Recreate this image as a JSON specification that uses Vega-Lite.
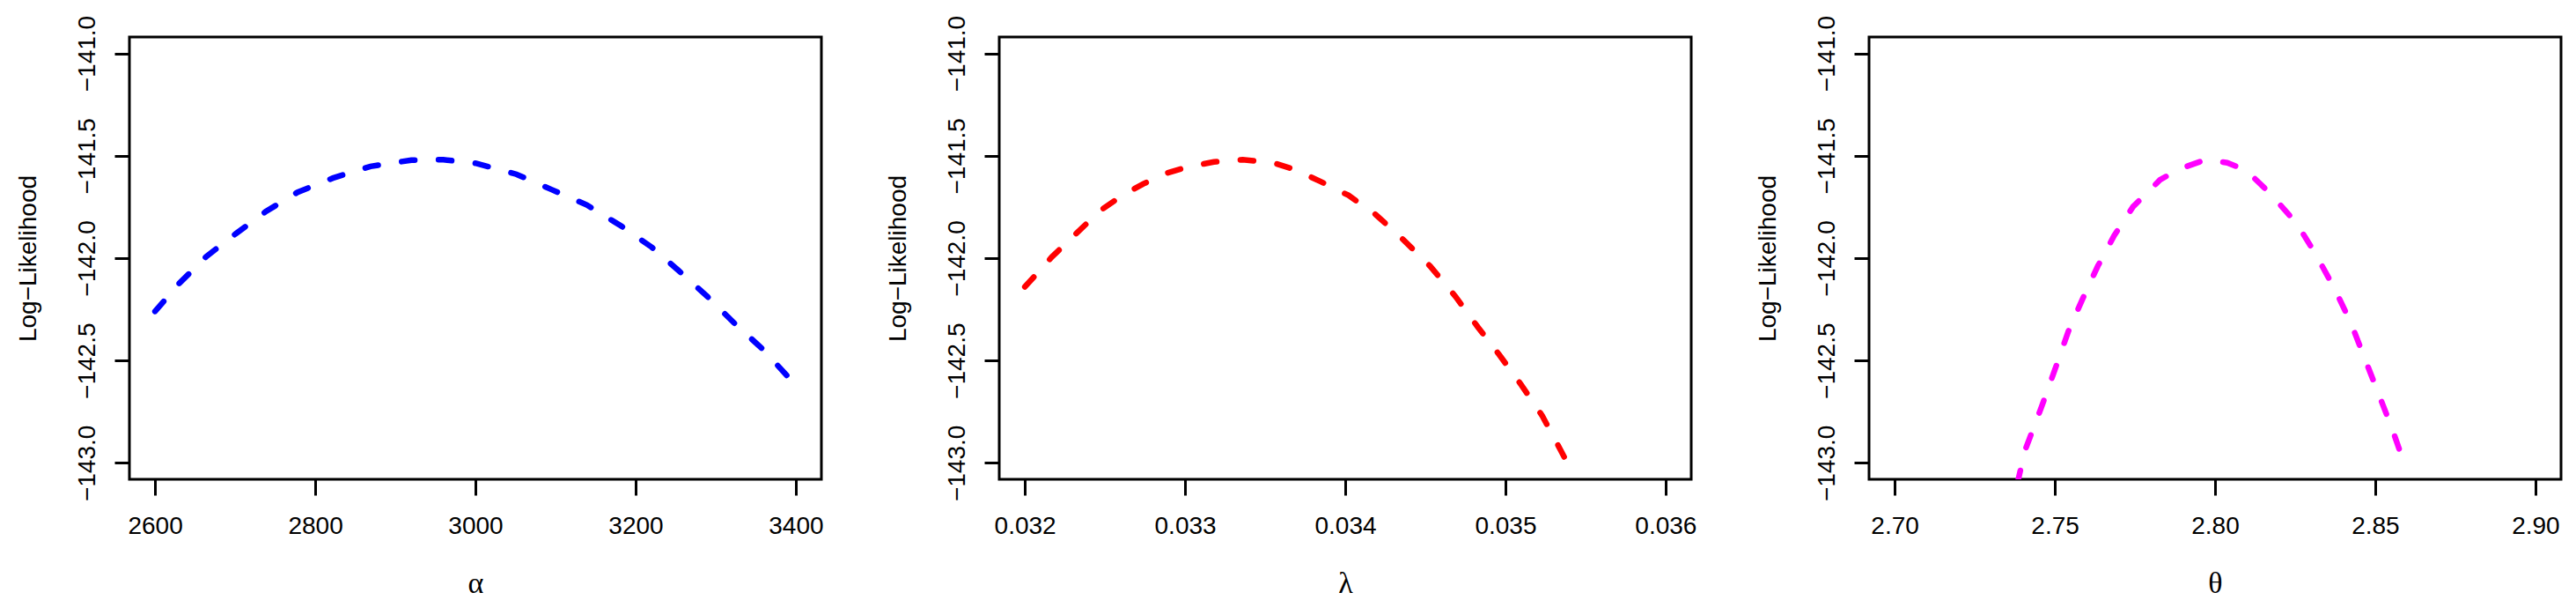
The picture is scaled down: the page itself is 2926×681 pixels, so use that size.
{
  "$schema": "https://vega.github.io/schema/vega-lite/v6.json",
  "padding": {"left": 16, "top": 15, "right": 0, "bottom": 0},
  "background": "white",
  "bounds": "flush",
  "spacing": 202,
  "hconcat": [
    {
      "width": 786, "height": 502,
      "data": {"values": [
        {"alpha": 2600, "loglik": -142.26},
        {"alpha": 2630, "loglik": -142.124},
        {"alpha": 2664, "loglik": -141.992},
        {"alpha": 2701, "loglik": -141.88},
        {"alpha": 2738, "loglik": -141.773},
        {"alpha": 2778, "loglik": -141.678},
        {"alpha": 2822, "loglik": -141.609},
        {"alpha": 2869, "loglik": -141.552},
        {"alpha": 2920, "loglik": -141.521},
        {"alpha": 2960, "loglik": -141.519},
        {"alpha": 3001, "loglik": -141.537},
        {"alpha": 3051, "loglik": -141.59},
        {"alpha": 3095, "loglik": -141.665},
        {"alpha": 3139, "loglik": -141.74},
        {"alpha": 3182, "loglik": -141.843},
        {"alpha": 3220, "loglik": -141.946},
        {"alpha": 3253, "loglik": -142.058},
        {"alpha": 3290, "loglik": -142.189},
        {"alpha": 3324, "loglik": -142.32},
        {"alpha": 3358, "loglik": -142.442},
        {"alpha": 3400, "loglik": -142.62}
      ]},
      "mark": {"type": "line", "color": "#0000ff", "strokeWidth": 6.5, "strokeDash": [15, 27], "strokeCap": "round", "clip": true},
      "encoding": {
        "x": {"field": "alpha", "type": "quantitative", "scale": {"domain": [2568, 3432], "nice": false, "zero": false},
              "axis": {"values": [2600, 2800, 3000, 3200, 3400], "format": "d", "title": "α"}},
        "y": {"field": "loglik", "type": "quantitative", "scale": {"domain": [-143.08, -140.92], "nice": false, "zero": false},
              "axis": {"values": [-143, -142.5, -142, -141.5, -141], "format": ".1f", "title": "Log−Likelihood"}}
      }
    },
    {
      "width": 786, "height": 502,
      "data": {"values": [
        {"lambda": 0.032, "loglik": -142.14},
        {"lambda": 0.03207, "loglik": -142.08},
        {"lambda": 0.03217, "loglik": -141.993},
        {"lambda": 0.03232, "loglik": -141.88},
        {"lambda": 0.03247, "loglik": -141.768},
        {"lambda": 0.03261, "loglik": -141.693},
        {"lambda": 0.03274, "loglik": -141.637},
        {"lambda": 0.03289, "loglik": -141.584},
        {"lambda": 0.03301, "loglik": -141.556},
        {"lambda": 0.03318, "loglik": -141.53},
        {"lambda": 0.03336, "loglik": -141.519},
        {"lambda": 0.03355, "loglik": -141.534},
        {"lambda": 0.03368, "loglik": -141.566},
        {"lambda": 0.03385, "loglik": -141.627},
        {"lambda": 0.03402, "loglik": -141.693},
        {"lambda": 0.03419, "loglik": -141.787},
        {"lambda": 0.03436, "loglik": -141.908},
        {"lambda": 0.03453, "loglik": -142.039},
        {"lambda": 0.03469, "loglik": -142.189},
        {"lambda": 0.03483, "loglik": -142.339},
        {"lambda": 0.03496, "loglik": -142.47},
        {"lambda": 0.0351, "loglik": -142.62},
        {"lambda": 0.03523, "loglik": -142.77},
        {"lambda": 0.03532, "loglik": -142.901},
        {"lambda": 0.0354, "loglik": -143.02}
      ]},
      "mark": {"type": "line", "color": "#ff0000", "strokeWidth": 6.5, "strokeDash": [15, 27], "strokeCap": "round", "clip": true},
      "encoding": {
        "x": {"field": "lambda", "type": "quantitative", "scale": {"domain": [0.03184, 0.03616], "nice": false, "zero": false},
              "axis": {"values": [0.032, 0.033, 0.034, 0.035, 0.036], "format": ".3f", "title": "λ"}},
        "y": {"field": "loglik", "type": "quantitative", "scale": {"domain": [-143.08, -140.92], "nice": false, "zero": false},
              "axis": {"values": [-143, -142.5, -142, -141.5, -141], "format": ".1f", "title": "Log−Likelihood"}}
      }
    },
    {
      "width": 786, "height": 502,
      "data": {"values": [
        {"theta": 2.7383, "loglik": -143.1},
        {"theta": 2.7407, "loglik": -142.938},
        {"theta": 2.7457, "loglik": -142.732},
        {"theta": 2.75, "loglik": -142.545},
        {"theta": 2.7542, "loglik": -142.358},
        {"theta": 2.7584, "loglik": -142.208},
        {"theta": 2.7634, "loglik": -142.039},
        {"theta": 2.7685, "loglik": -141.89},
        {"theta": 2.7744, "loglik": -141.749},
        {"theta": 2.7828, "loglik": -141.618},
        {"theta": 2.7886, "loglik": -141.566},
        {"theta": 2.7971, "loglik": -141.519},
        {"theta": 2.8038, "loglik": -141.534},
        {"theta": 2.8097, "loglik": -141.571},
        {"theta": 2.8172, "loglik": -141.684},
        {"theta": 2.8256, "loglik": -141.833},
        {"theta": 2.8315, "loglik": -141.983},
        {"theta": 2.8374, "loglik": -142.152},
        {"theta": 2.8425, "loglik": -142.32},
        {"theta": 2.8467, "loglik": -142.489},
        {"theta": 2.8509, "loglik": -142.657},
        {"theta": 2.8551, "loglik": -142.826},
        {"theta": 2.8593, "loglik": -143.013}
      ]},
      "mark": {"type": "line", "color": "#ff00ff", "strokeWidth": 6.5, "strokeDash": [15, 27], "strokeCap": "round", "clip": true},
      "encoding": {
        "x": {"field": "theta", "type": "quantitative", "scale": {"domain": [2.692, 2.908], "nice": false, "zero": false},
              "axis": {"values": [2.7, 2.75, 2.8, 2.85, 2.9], "format": ".2f", "title": "θ"}},
        "y": {"field": "loglik", "type": "quantitative", "scale": {"domain": [-143.08, -140.92], "nice": false, "zero": false},
              "axis": {"values": [-143, -142.5, -142, -141.5, -141], "format": ".1f", "title": "Log−Likelihood"}}
      }
    }
  ],
  "config": {
    "view": {"stroke": "black", "strokeWidth": 3},
    "axis": {
      "grid": false, "domain": false, "ticks": true, "tickColor": "black", "tickWidth": 3,
      "labelFont": "Liberation Sans", "labelFontSize": 28, "labelColor": "black",
      "titleFont": "Liberation Sans", "titleFontSize": 28, "titleFontWeight": "normal", "titleColor": "black",
      "labelOverlap": false, "labelFlush": false
    },
    "axisX": {
      "tickSize": 18, "labelAngle": 0, "labelAlign": "center", "labelBaseline": "alphabetic", "labelPadding": 43,
      "titleFont": "Liberation Serif", "titleFontSize": 34, "titleX": 393, "titleY": 128, "titleAlign": "center", "titleBaseline": "alphabetic"
    },
    "axisY": {
      "tickSize": 17, "labelAngle": 270, "labelAlign": "center", "labelBaseline": "alphabetic", "labelPadding": 23,
      "titleAngle": 270, "titleX": -107, "titleY": 251, "titleAlign": "center", "titleBaseline": "alphabetic"
    }
  }
}
